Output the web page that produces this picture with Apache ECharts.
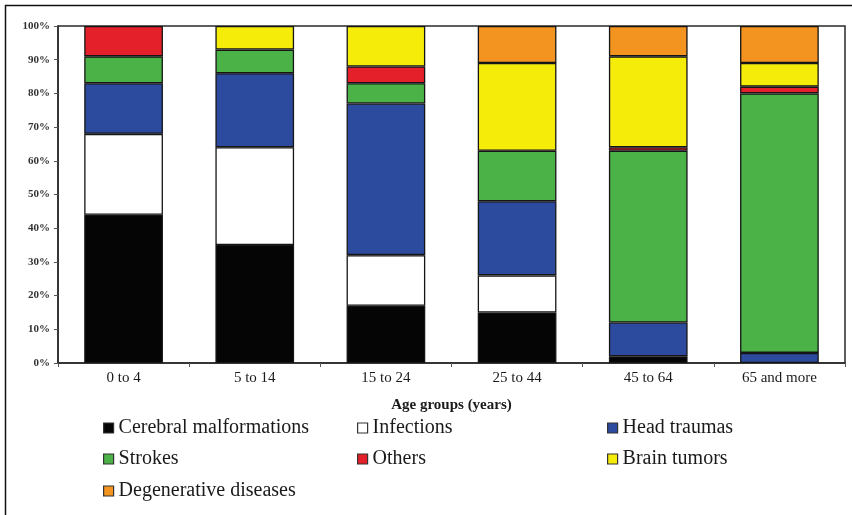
<!DOCTYPE html>
<html>
<head>
<meta charset="utf-8">
<script src="https://cdn.jsdelivr.net/npm/echarts@6/dist/echarts.min.js"></script>
<style>
html,body{margin:0;padding:0;background:#fff;}
#c{width:852px;height:515px;}
</style>
</head>
<body>
<div id="c"></div>
<script>
const categories = ['0 to 4', '5 to 14', '15 to 24', '25 to 44', '45 to 64', '65 and more'];
const seriesNames = ['Cerebral malformations', 'Infections', 'Head traumas', 'Strokes', 'Others', 'Brain tumors', 'Degenerative diseases'];
const cerebral = [44, 35, 17, 15, 2, 0];
const infections = [24, 29, 15, 11, 0, 0];
const headTraumas = [15, 22, 45, 22, 10, 3];
const strokes = [8, 7, 6, 15, 51, 77];
const others = [9, 0, 5, 0, 1, 2];
const brainTumors = [0, 7, 12, 26, 27, 7];
const degenerative = [0, 0, 0, 11, 9, 11];
const yTicks = [0, 10, 20, 30, 40, 50, 60, 70, 80, 90, 100];

const allValues = [cerebral, infections, headTraumas, strokes, others, brainTumors, degenerative];
const colors = ['#050505', '#ffffff', '#2c4a9e', '#4bb248', '#e4202a', '#f6ec0a', '#f39320'];
const serif = 'Liberation Serif';

const chart = echarts.init(document.getElementById('c'), null, {renderer: 'canvas'});

const series = seriesNames.map((name, i) => ({
  name: name,
  type: 'bar',
  stack: 'total',
  barCategoryGap: '40%',
  data: allValues[i].map(v => v === 0 ? null : v),
  itemStyle: {color: colors[i], borderColor: '#151515', borderWidth: 1.3},
  emphasis: {disabled: true},
  animation: false
}));

const legendPos = [
  [103, 418], [357, 418], [607, 418],
  [103, 449], [357, 449], [607, 449],
  [103, 481]
];
const legends = seriesNames.map((name, i) => ({
  data: [{name: name, icon: 'rect', itemStyle: {borderColor: '#333', borderWidth: 1.2}}],
  left: legendPos[i][0],
  top: legendPos[i][1],
  padding: 0,
  itemWidth: 10,
  itemHeight: 10,
  selectedMode: false,
  textStyle: {fontFamily: serif, fontSize: 20, color: '#1a1a1a'}
}));

chart.setOption({
  backgroundColor: '#ffffff',
  animation: false,
  grid: {left: 58, right: 7, top: 26, bottom: 152, show: true, borderColor: '#2a2a2a', borderWidth: 1.5, backgroundColor: 'transparent'},
  graphic: [
    {type: 'line', shape: {x1: 5, y1: 5.5, x2: 852, y2: 5.5}, style: {stroke: '#111', lineWidth: 1.5}, silent: true},
    {type: 'line', shape: {x1: 5.5, y1: 5, x2: 5.5, y2: 515}, style: {stroke: '#111', lineWidth: 1.5}, silent: true}
  ],
  xAxis: {
    type: 'category',
    data: categories,
    name: 'Age groups (years)',
    nameLocation: 'middle',
    nameGap: 35,
    nameTextStyle: {fontFamily: serif, fontSize: 15, fontWeight: 'bold', color: '#1a1a1a'},
    axisLine: {lineStyle: {color: '#2a2a2a', width: 1.5}},
    axisTick: {show: true, length: 4, lineStyle: {color: '#555'}},
    axisLabel: {fontFamily: serif, fontSize: 15, color: '#1a1a1a', margin: 8}
  },
  yAxis: {
    type: 'value',
    min: 0,
    max: 100,
    interval: 10,
    axisLine: {show: true, lineStyle: {color: '#2a2a2a', width: 1.5}},
    axisTick: {show: true, length: 4, lineStyle: {color: '#555'}},
    splitLine: {show: false},
    axisLabel: {
      fontFamily: serif, fontSize: 11, fontWeight: 'bold', color: '#333', margin: 8,
      customValues: yTicks,
      formatter: v => v + '%'
    }
  },
  legend: legends,
  series: series
});
</script>
</body>
</html>
